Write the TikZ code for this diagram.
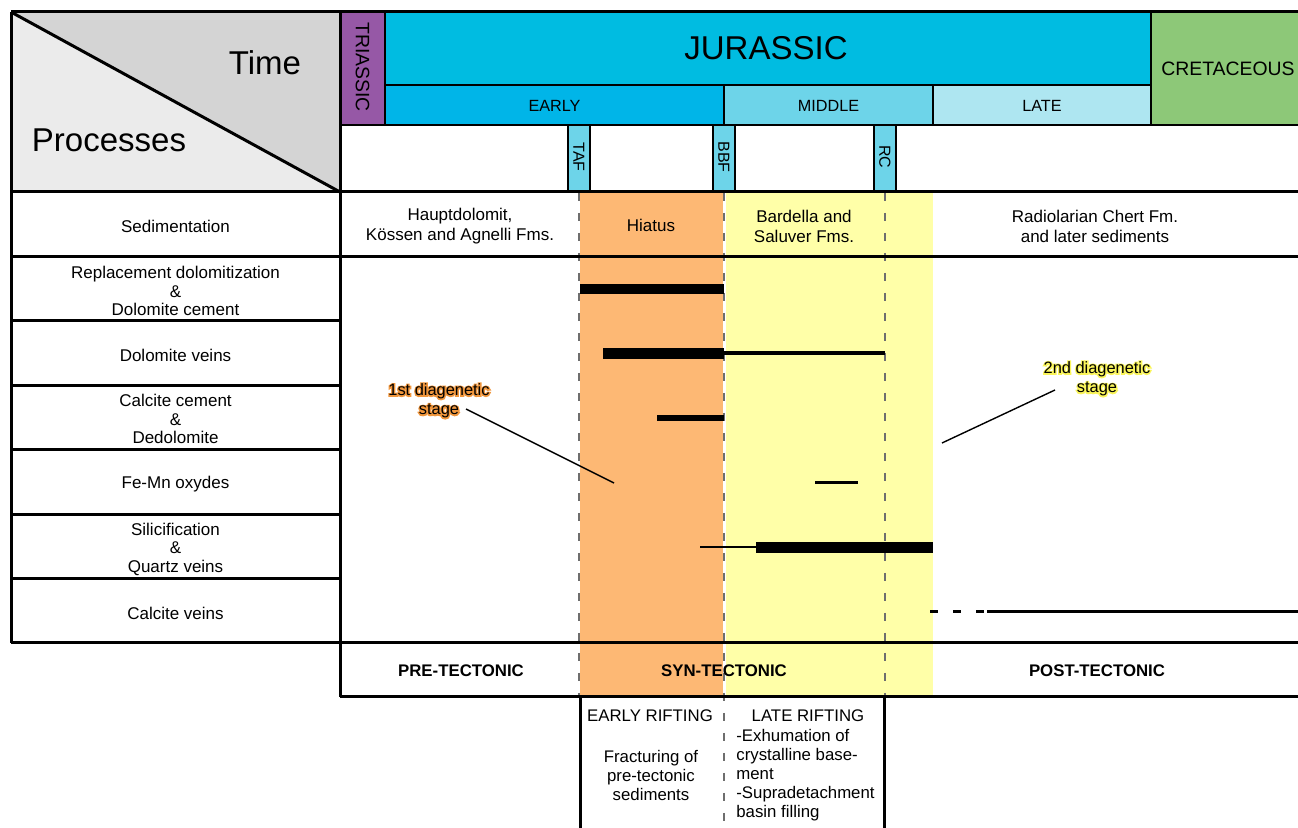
\documentclass[tikz,border=0pt]{standalone}
\usepackage{fontspec}
\setmainfont{Liberation Sans}
\newfontfamily\halofont[FakeBold=16]{Liberation Sans}
\usetikzlibrary{calc}
\definecolor{hdrdark}{RGB}{212,212,212}
\definecolor{hdrlight}{RGB}{235,235,235}
\definecolor{triassic}{RGB}{150,88,166}
\definecolor{jurassic}{RGB}{0,188,225}
\definecolor{early}{RGB}{0,181,232}
\definecolor{middle}{RGB}{109,212,233}
\definecolor{late}{RGB}{174,230,241}
\definecolor{cretaceous}{RGB}{141,200,120}
\definecolor{orangeband}{RGB}{253,184,116}
\definecolor{yellowband}{RGB}{255,255,168}
\definecolor{orangehalo}{RGB}{240,150,60}
\definecolor{yellowhalo}{RGB}{250,245,90}
\definecolor{dashgray}{RGB}{110,110,110}
\begin{document}
\begin{tikzpicture}[x=0.5pt,y=-0.5pt,
  mainline/.style={line width=1.5pt},
  thinline/.style={line width=0.75pt},
  dashline/.style={dashgray,line width=0.7pt,dash pattern=on 4pt off 6pt},
  bigtxt/.style={font=\fontsize{16.5}{18}\selectfont,inner sep=0},
  lbl/.style={font=\fontsize{8.5}{9.25}\selectfont,align=center,inner sep=0},
  sedlbl/.style={font=\fontsize{8.5}{10}\selectfont,align=center,inner sep=0},
  riftlbl/.style={font=\fontsize{8.4}{9.5}\selectfont,inner sep=0},
  tecto/.style={font=\bfseries\fontsize{8.4}{9.5}\selectfont,inner sep=0},
  sublbl/.style={font=\fontsize{8.1}{9}\selectfont,inner sep=0},
  boundary/.style={font=\fontsize{8}{9}\selectfont,inner sep=0,rotate=-90},
  diag/.style={font=\fontsize{8.2}{9.6}\selectfont,align=center,inner sep=0},
  halo/.style={font=\halofont\fontsize{8.2}{9.6}\selectfont,align=center,inner sep=0},
  barline/.style={fill=black}]
\clip (0,0) rectangle (1298,828);
\fill[white] (0,0) rectangle (1298,828);
% header corner
\fill[hdrdark] (11,12) -- (340,12) -- (340,192) -- cycle;
\fill[hdrlight] (11,12) -- (340,192) -- (11,192) -- cycle;
\draw[mainline] (11,12) -- (340,192);
\node[bigtxt,anchor=base] (time) at (265,75) {Time};
\node[bigtxt,anchor=base] (proc) at (109,152) {Processes};
% periods
\draw[thinline,fill=triassic] (340,12) rectangle (385,125);
\draw[thinline,fill=jurassic] (385,12) rectangle (1151,85);
\draw[thinline,fill=early] (385,85) rectangle (724,125);
\draw[thinline,fill=middle] (724,85) rectangle (933,125);
\draw[thinline,fill=late] (933,85) rectangle (1151,125);
\draw[thinline,fill=cretaceous] (1151,12) rectangle (1310,125);
\node[font=\fontsize{9.7}{11}\selectfont,inner sep=0,rotate=-90] (tri) at (362.5,67) {TRIASSIC};
\node[bigtxt,anchor=base] (jur) at (766,60) {JURASSIC};
\node[font=\fontsize{9.7}{11}\selectfont,inner sep=0] (cre) at (1228,68.5) {CRETACEOUS};
\node[sublbl] (ear) at (554.5,105.5) {EARLY};
\node[sublbl] (mid) at (828.5,105.5) {MIDDLE};
\node[sublbl] (lat) at (1042,105.5) {LATE};
% boundary boxes
\draw[thinline,fill=middle] (568,125) rectangle (590,192);
\draw[thinline,fill=middle] (713,125) rectangle (735,192);
\draw[thinline,fill=middle] (874,125) rectangle (896,192);
\node[boundary] (taf) at (579,157) {TAF};
\node[boundary] (bbf) at (724,157) {BBF};
\node[boundary] (rc) at (885,157) {RC};
% bands
\fill[orangeband] (580,193) rectangle (723,697);
\fill[yellowband] (725.5,193) rectangle (933,697);
% dashed time lines
\draw[dashline] (579,193) -- (579,697);
\draw[dashline] (724,193) -- (724,830);
\draw[dashline] (885,193) -- (885,697);
% grid
\draw[mainline] (11,12) -- (1310,12);
\draw[mainline] (11,12) -- (11,643);
\draw[mainline] (340,12) -- (340,697);
\draw[mainline] (11,192) -- (1310,192);
\draw[mainline] (11,257) -- (1310,257);
\foreach \yy in {321,386,450,515,579}{\draw[mainline] (11,\yy) -- (340,\yy);}
\draw[mainline] (11,643) -- (1310,643);
\draw[mainline] (340,697) -- (1310,697);
\draw[mainline] (580,697) -- (580,830);
\draw[mainline] (884,697) -- (884,830);
% process labels
\node[lbl] (p0) at (175.5,226) {Sedimentation};
\node[lbl] (p1) at (175.5,291) {Replacement dolomitization\\\&\\Dolomite cement};
\node[lbl] (p2) at (175.5,355) {Dolomite veins};
\node[lbl] (p3) at (175.5,419) {Calcite cement\\\&\\Dedolomite};
\node[lbl] (p4) at (175.5,484) {Fe-Mn oxydes};
\node[lbl] (p5) at (175.5,549) {Silicification\\\&\\Quartz veins};
\node[lbl] (p6) at (175.5,613) {Calcite veins};
% sedimentation row
\node[sedlbl] (s1) at (460,226) {Hauptdolomit,\\K\"ossen and Agnelli Fms.};
\node[sedlbl] (s2) at (651,225) {Hiatus};
\node[sedlbl] (s3) at (804,226) {Bardella and\\Saluver Fms.};
\node[sedlbl] (s4) at (1095,226) {Radiolarian Chert Fm.\\and later sediments};
% bars
\fill[barline] (580,284) rectangle (724,294.5);
\fill[barline] (603,348) rectangle (724,359);
\fill[barline] (724,351.5) rectangle (885,355.5);
\fill[barline] (657,415) rectangle (724,421);
\fill[barline] (815,481) rectangle (858,484);
\fill[barline] (700,546) rectangle (756,548.5);
\fill[barline] (756,542) rectangle (933,553);
\draw[line width=1.5pt] (930,612) -- (938,612);
\draw[line width=1.5pt] (953,612) -- (961,612);
\draw[line width=1.5pt] (976,612) -- (984,612);
\draw[line width=1.5pt] (987,612) -- (1310,612);
% diagenetic stages (halo + text)
\coordinate (d1) at (439,401);
\coordinate (d2) at (1097,379);
\node[halo,text=orangehalo] (h1) at (d1) {1st diagenetic\\stage};
\node[halo,text=yellowhalo] (h2) at (d2) {2nd diagenetic\\stage};
\node[diag] (l1) at (d1) {1st diagenetic\\stage};
\node[diag] (l2) at (d2) {2nd diagenetic\\stage};
\coordinate (a1s) at (466,409);
\coordinate (a1e) at (614,483);
\coordinate (a2s) at (1055,390);
\coordinate (a2e) at (942,443);
\draw[line width=0.7pt] (a1s) -- (a1e);
\draw[line width=0.7pt] (a2s) -- (a2e);
% tectonic row
\node[tecto] (pre) at (461,671) {PRE-TECTONIC};
\node[tecto] (syn) at (724,671) {SYN-TECTONIC};
\node[tecto] (post) at (1097,671) {POST-TECTONIC};
% rifting
\node[riftlbl] (er) at (650,716) {EARLY RIFTING};
\node[riftlbl] (lr) at (808,716) {LATE RIFTING};
\node[riftlbl,align=center] (erd) at (651,775) {Fracturing of\\pre-tectonic\\sediments};
\node[riftlbl,align=left,anchor=west] (lrd) at (736,775) {-Exhumation of\\crystalline base-\\ment\\-Supradetachment\\basin filling};
\end{tikzpicture}
\end{document}
